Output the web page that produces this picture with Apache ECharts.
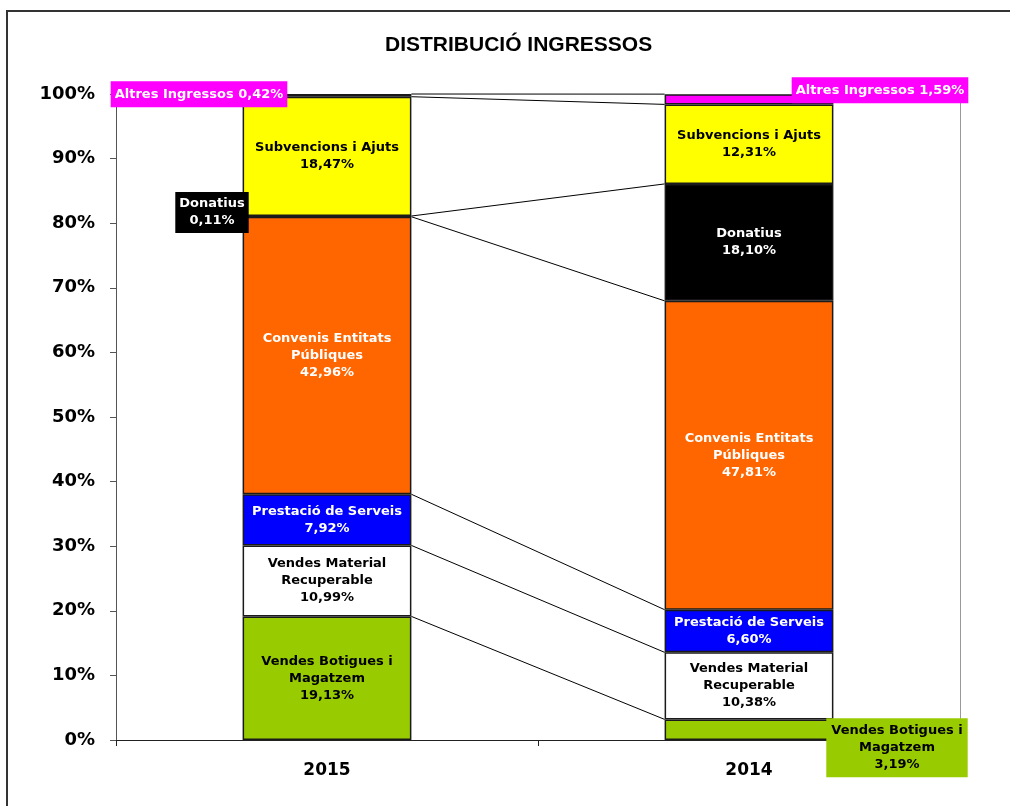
<!DOCTYPE html>
<html>
<head>
<meta charset="utf-8">
<script src="https://cdn.jsdelivr.net/npm/echarts@6/dist/echarts.min.js"></script>
<style>html,body{margin:0;padding:0;background:#fff}#c{width:1010px;height:806px}</style>
</head>
<body>
<div id="c"></div>
<script>
const categories = ['2015', '2014'];
const seriesNames = ['Vendes Botigues i Magatzem', 'Vendes Material Recuperable', 'Prestació de Serveis', 'Convenis Entitats Públiques', 'Donatius', 'Subvencions i Ajuts', 'Altres Ingressos'];
const labelNames = ['Vendes Botigues i\nMagatzem', 'Vendes Material\nRecuperable', 'Prestació de Serveis', 'Convenis Entitats\nPúbliques', 'Donatius', 'Subvencions i Ajuts', 'Altres Ingressos'];
const values2015 = [19.13, 10.99, 7.92, 42.96, 0.11, 18.47, 0.42];
const values2014 = [3.19, 10.38, 6.60, 47.81, 18.10, 12.31, 1.59];
const titleText = 'DISTRIBUCIÓ INGRESSOS';

const colors = ['#99CC00', '#FFFFFF', '#0000FF', '#FF6600', '#000000', '#FFFF00', '#FF00FF'];
const textColors = ['#000', '#000', '#fff', '#fff', '#fff', '#000', '#fff'];
// label overrides for small segments (series index - category index)
const labelOverrides = {
  '6-0': {offset: [-128, -1], padding: [5, 4, 4, 4]},
  '6-1': {offset: [131, -9], padding: [5, 4, 4, 4]},
  '4-0': {offset: [-115, -4], padding: [4, 4, 3, 4]},
  '0-1': {offset: [148, 18], padding: [5, 5, 3, 5]}
};
const fmt = v => v.toFixed(2).replace('.', ',') + '%';

const series = seriesNames.map((name, i) => {
  const vals = [values2015[i], values2014[i]];
  return {
    name: name,
    type: 'bar',
    stack: 'total',
    barWidth: '40%',
    itemStyle: {color: colors[i], borderColor: '#1a1a1a', borderWidth: 1.5},
    label: {
      show: true,
      position: 'inside',
      fontFamily: 'DejaVu Sans',
      fontWeight: 'bold',
      fontSize: 13,
      lineHeight: 17,
      color: textColors[i],
      formatter: p => labelNames[i] + (i === 6 ? ' ' : '\n') + fmt(p.value)
    },
    data: vals.map((v, j) => {
      const o = labelOverrides[i + '-' + j];
      if (!o) return v;
      return {value: v, label: {offset: o.offset, padding: o.padding, backgroundColor: colors[i]}};
    })
  };
});

// series lines connecting tops of each segment between the two bars
const cum15 = [], cum14 = [];
let a = 0, b = 0;
for (let i = 0; i < seriesNames.length; i++) {
  a += values2015[i]; b += values2014[i];
  cum15.push(a); cum14.push(b);
}
series.push({
  type: 'custom',
  silent: true,
  z: 1,
  encode: {x: 0, y: [1, 2]},
  renderItem: (params, api) => {
    const p1 = api.coord([0, api.value(1)]);
    const p2 = api.coord([1, api.value(2)]);
    const hw = api.size([1, 0])[0] * 0.2;
    return {type: 'line', shape: {x1: p1[0] + hw, y1: p1[1], x2: p2[0] - hw, y2: p2[1]}, style: {stroke: '#000', lineWidth: 1}};
  },
  data: cum15.map((v, i) => [0, v, cum14[i]])
});

const chart = echarts.init(document.getElementById('c'));
chart.setOption({
  animation: false,
  title: {
    text: titleText, left: 380, top: 30,
    textStyle: {fontFamily: 'Liberation Sans', fontWeight: 'bold', fontSize: 21, color: '#000'}
  },
  graphic: [{
    type: 'rect', silent: true, z: -1,
    shape: {x: 7, y: 11, width: 1020, height: 820},
    style: {fill: 'none', stroke: '#333', lineWidth: 2}
  }],
  grid: {left: 116, right: 50, top: 94, bottom: 66},
  xAxis: {
    type: 'category',
    data: categories,
    axisLine: {lineStyle: {color: '#222', width: 1}},
    axisTick: {show: true, length: 6, lineStyle: {color: '#222'}},
    axisLabel: {fontFamily: 'DejaVu Sans', fontWeight: 'bold', fontSize: 17, color: '#000', margin: 22}
  },
  yAxis: [{
    type: 'value', min: 0, max: 100, interval: 10,
    axisLine: {show: true, lineStyle: {color: '#555'}},
    axisTick: {show: true, length: 6, lineStyle: {color: '#555'}},
    splitLine: {show: false},
    axisLabel: {formatter: '{value}%', fontFamily: 'DejaVu Sans', fontWeight: 'bold', fontSize: 18, color: '#000', margin: 21}
  }, {
    type: 'value', min: 0, max: 100, interval: 10, position: 'right',
    axisLine: {show: true, lineStyle: {color: '#999'}},
    axisTick: {show: false}, axisLabel: {show: false}, splitLine: {show: false}
  }],
  series: series
});
</script>
</body>
</html>
